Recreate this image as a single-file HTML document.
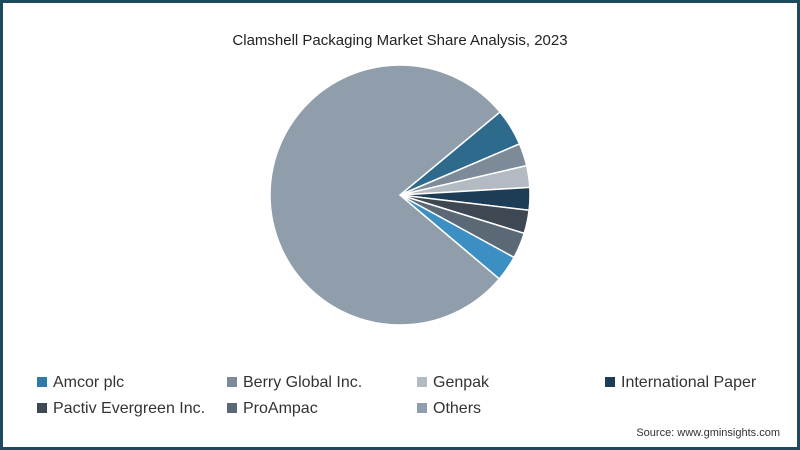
<!DOCTYPE html>
<html><head><meta charset="utf-8"><style>
body{margin:0;width:800px;height:450px;overflow:hidden;background:#fff;font-family:"Liberation Sans",sans-serif}
#frame{position:absolute;left:0;top:0;width:794px;height:444px;border:3px solid #1d4a5c;background:#fff}
.t{position:absolute;left:0;width:800px;top:32px;text-align:center;font-size:15px;color:#222}
.lg{position:absolute;font-size:16px;color:#333;white-space:nowrap}
.lg i{display:inline-block;width:10px;height:10px;margin-right:6px;vertical-align:0}
.src{position:absolute;right:20px;top:427px;font-size:11px;color:#333}
</style></head><body>
<div id="frame"></div>
<div class="t">Clamshell Packaging Market Share Analysis, 2023</div>
<svg id="pie" width="800" height="450" style="position:absolute;left:0;top:0"></svg>
<div id="legend"></div>
<div class="src">Source: www.gminsights.com</div>
<script>
const sliceLabels=["Amcor plc","Berry Global Inc.","Genpak","International Paper","Pactiv Evergreen Inc.","ProAmpac","Bright","Others"];
const sliceValues=[4.6,2.8,2.7,2.8,2.9,3.2,3.2,77.8];
const sliceColors=["#2e6a8c","#7d8a97","#b3bac1","#1c3d55","#3d4853","#5b6977","#3b8fc2","#909eac"];
const legendLabels=["Amcor plc","Berry Global Inc.","Genpak","International Paper","Pactiv Evergreen Inc.","ProAmpac","Others"];
const legendColors=["#2e7aa8","#7d8a97","#b3bac1","#1c3d55","#3d4853","#5b6977","#909eac"];
const cx=400,cy=195,r=130,start=-39.7;
const svg=document.getElementById('pie');
const total=sliceValues.reduce((a,b)=>a+b,0);
let a=start*Math.PI/180;
sliceValues.forEach((v,i)=>{
  const s=a,e=a+v/total*2*Math.PI;a=e;
  const p=document.createElementNS('http://www.w3.org/2000/svg','path');
  const large=(e-s)>Math.PI?1:0;
  p.setAttribute('d',`M${cx},${cy}L${cx+r*Math.cos(s)},${cy+r*Math.sin(s)}A${r},${r} 0 ${large} 1 ${cx+r*Math.cos(e)},${cy+r*Math.sin(e)}Z`);
  p.setAttribute('fill',sliceColors[i]);p.setAttribute('stroke','#fff');p.setAttribute('stroke-width','1.5');
  
  
  svg.appendChild(p);
});
const lg=document.getElementById('legend');
const xs=[37,227,417,605];
legendLabels.forEach((l,i)=>{
  const d=document.createElement('div');d.className='lg';
  d.style.left=xs[i%4]+'px';d.style.top=(i<4?374:400)+'px';
  d.innerHTML=`<i style="background:${legendColors[i]}"></i>${l}`;
  
  
  lg.appendChild(d);
});
</script>
</body></html>
